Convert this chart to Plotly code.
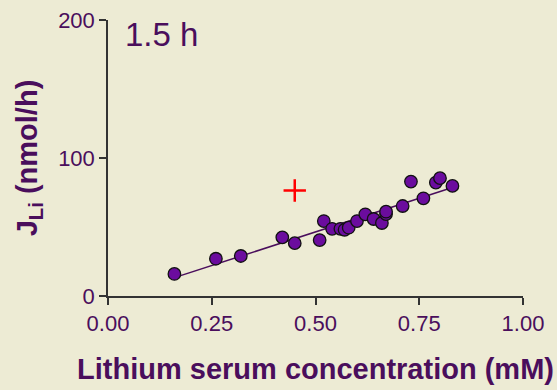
import plotly.graph_objects as go

x_vals = [0.16, 0.26, 0.32, 0.42, 0.45, 0.51, 0.52, 0.54, 0.56, 0.57, 0.58, 0.60, 0.62, 0.64, 0.66, 0.67, 0.67, 0.71, 0.73, 0.76, 0.79, 0.80, 0.83]
y_vals = [16, 27, 29, 42.5, 38.3, 40.5, 54.3, 48.7, 48.7, 48, 49.5, 54.3, 59.2, 55.8, 52.9, 59.4, 61.1, 65.2, 82.9, 70.8, 82.2, 85.4, 79.8]
outlier_x = [0.45]
outlier_y = [76.4]
fit_x = [0.16, 0.83]
slope, intercept = 97.5, -2.3
fit_y = [slope * v + intercept for v in fit_x]
x_ticks = [0, 0.25, 0.5, 0.75, 1.0]
x_tick_labels = ["0.00", "0.25", "0.50", "0.75", "1.00"]
y_ticks = [0, 100, 200]

TXT = "#4A0E5C"
BG = "#EDEBD4"
FONT = "Liberation Sans, Arial, sans-serif"

fig = go.Figure()
fig.add_trace(go.Scatter(x=fit_x, y=fit_y, mode="lines",
                         line=dict(color="#4A0E5C", width=1.5), hoverinfo="skip"))
fig.add_trace(go.Scatter(x=x_vals, y=y_vals, mode="markers",
                         marker=dict(size=12.5, color="#6B0C9E", line=dict(color="#111111", width=1.3))))
fig.add_trace(go.Scatter(x=outlier_x, y=outlier_y, mode="markers",
                         marker=dict(symbol="cross-thin", size=16, line=dict(color="#FF0000", width=2.5))))

fig.add_annotation(x=0.036, y=200, xref="x", yref="y", text="1.5 h", showarrow=False,
                   xanchor="left", yanchor="top", yshift=6, font=dict(family=FONT, size=33, color=TXT))

fig.update_layout(
    width=557, height=390,
    margin=dict(l=108, r=34, t=20, b=94),
    paper_bgcolor=BG, plot_bgcolor=BG,
    showlegend=False,
    font=dict(family=FONT, color=TXT, size=22),
    xaxis=dict(range=[0, 1], tickvals=x_ticks, ticktext=x_tick_labels, automargin=False,
               showgrid=False, zeroline=False, showline=True, linecolor="#333333", linewidth=1.5,
               ticks="outside", ticklen=7, tickcolor="#333333", tickwidth=1.5,
               tickfont=dict(size=22, color=TXT),
               title=dict(text="<b>Lithium serum concentration (mM)</b>", font=dict(size=29, color=TXT), standoff=24)),
    yaxis=dict(range=[0, 200], tickvals=y_ticks, automargin=False,
               showgrid=False, zeroline=False, showline=True, linecolor="#333333", linewidth=1.5,
               ticks="outside", ticklen=7, tickcolor="#333333", tickwidth=1.5,
               tickfont=dict(size=22, color=TXT),
               title=dict(text="<b>J<sub>Li</sub> (nmol/h)</b>", font=dict(size=29, color=TXT), standoff=12)),
)

fig.write_html("out.html")
